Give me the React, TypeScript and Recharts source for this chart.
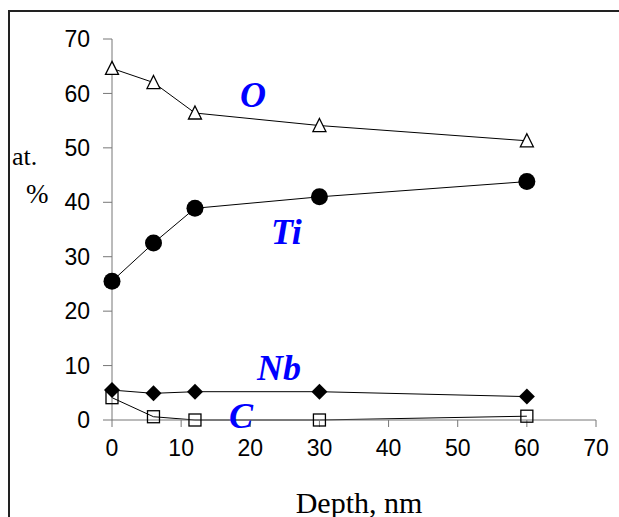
import React from 'react';
import { LineChart, Line, XAxis, YAxis } from 'recharts';

// Depth profile (at. %) vs depth, nm
const depth = [0, 6, 12, 30, 60];
const oxygen = [64.6, 62.0, 56.4, 54.1, 51.3];
const titanium = [25.5, 32.5, 38.9, 41.0, 43.8];
const niobium = [5.5, 4.9, 5.2, 5.2, 4.3];
const carbon = [4.1, 0.6, 0, 0, 0.7];
const xTicks = [0, 10, 20, 30, 40, 50, 60, 70];
const yTicks = [0, 10, 20, 30, 40, 50, 60, 70];

const toRows = (vals: number[]) => depth.map((d, i) => ({ depth: d, value: vals[i] }));

const W = 619;
const H = 517;
const serif = '"Liberation Serif", "Times New Roman", serif';
const sans = '"Liberation Sans", Arial, sans-serif';

type DotProps = { cx?: number; cy?: number; index?: number };

const Triangle = ({ cx = 0, cy = 0, index }: DotProps) => (
  <path
    key={`t-${index}`}
    d={`M${cx},${cy - 7} L${cx + 6.5},${cy + 6} L${cx - 6.5},${cy + 6} Z`}
    fill="#fff"
    stroke="#000"
    strokeWidth={1.3}
  />
);

const Circle = ({ cx = 0, cy = 0, index }: DotProps) => (
  <circle key={`c-${index}`} cx={cx} cy={cy} r={8.5} fill="#000" />
);

const Diamond = ({ cx = 0, cy = 0, index }: DotProps) => (
  <path
    key={`d-${index}`}
    d={`M${cx},${cy - 8} L${cx + 8},${cy} L${cx},${cy + 8} L${cx - 8},${cy} Z`}
    fill="#000"
  />
);

const Square = ({ cx = 0, cy = 0, index }: DotProps) => (
  <rect
    key={`s-${index}`}
    x={cx - 6}
    y={cy - 6}
    width={12}
    height={12}
    fill="#fff"
    fillOpacity={0}
    stroke="#000"
    strokeWidth={1.3}
  />
);

const labelStyle = {
  fontFamily: serif,
  fontWeight: 'bold' as const,
  fontStyle: 'italic' as const,
  fontSize: 36,
  fill: '#0000ff',
};

export default function App() {
  return (
    <div style={{ position: 'absolute', left: 0, top: 0, width: W, height: H, overflow: 'hidden', background: '#fff' }}>
      {/* frame, runs off the right and bottom edges */}
      <div
        style={{
          position: 'absolute',
          left: 8,
          top: 10,
          width: 800,
          height: 800,
          border: '2px solid #222',
          boxSizing: 'border-box',
        }}
      />
      <div style={{ position: 'absolute', left: 0, top: 0 }}>
        <LineChart width={W} height={H} margin={{ top: 39, right: 23, left: 12, bottom: 0 }}>
          <XAxis
            dataKey="depth"
            type="number"
            domain={[0, 70]}
            ticks={xTicks}
            interval={0}
            allowDuplicatedCategory={false}
            height={97}
            stroke="#777"
            tickSize={7}
            tickMargin={13}
            tick={{ fill: '#000', fontSize: 23, fontFamily: sans }}
          />
          <YAxis
            type="number"
            domain={[0, 70]}
            ticks={yTicks}
            interval={0}
            width={100}
            stroke="#777"
            tickSize={9}
            tickMargin={13}
            tick={{ fill: '#000', fontSize: 23, fontFamily: sans }}
          />
          <Line data={toRows(oxygen)} dataKey="value" stroke="#000" strokeWidth={1} dot={Triangle} isAnimationActive={false} />
          <Line data={toRows(titanium)} dataKey="value" stroke="#000" strokeWidth={1} dot={Circle} isAnimationActive={false} />
          <Line data={toRows(niobium)} dataKey="value" stroke="#000" strokeWidth={1} dot={Diamond} isAnimationActive={false} />
          <Line data={toRows(carbon)} dataKey="value" stroke="#000" strokeWidth={1} dot={Square} isAnimationActive={false} />
        </LineChart>
      </div>
      <svg width={W} height={H} style={{ position: 'absolute', left: 0, top: 0, pointerEvents: 'none' }}>
        <text x={240} y={107} style={labelStyle}>O</text>
        <text x={271} y={244} style={labelStyle}>Ti</text>
        <text x={257} y={380} style={labelStyle}>Nb</text>
        <text x={229} y={428} style={labelStyle}>C</text>
        <text x={12} y={165} style={{ fontFamily: serif, fontSize: 26, fill: '#000' }}>at.</text>
        <text x={26} y={203} style={{ fontFamily: serif, fontSize: 27, fill: '#000' }}>%</text>
        <text x={359} y={513} textAnchor="middle" style={{ fontFamily: serif, fontSize: 30, fill: '#000' }}>Depth, nm</text>
      </svg>
    </div>
  );
}
